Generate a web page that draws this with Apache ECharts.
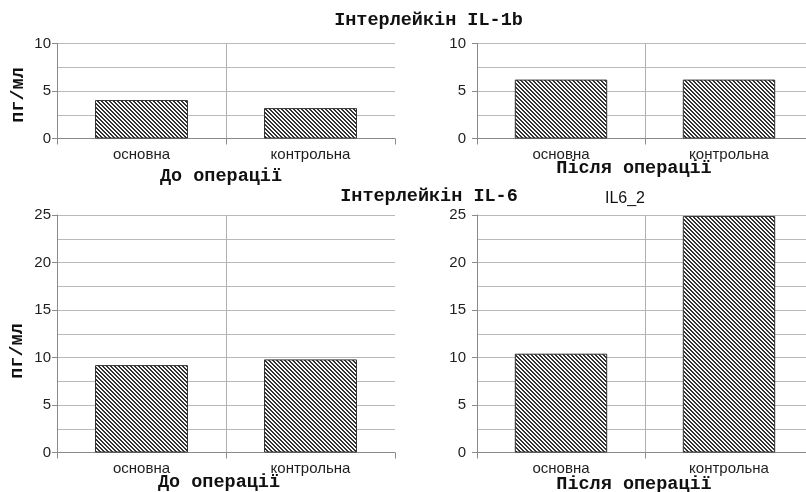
<!DOCTYPE html>
<html>
<head>
<meta charset="utf-8">
<script src="https://cdn.jsdelivr.net/npm/echarts@6/dist/echarts.min.js"></script>
<style>
html,body{margin:0;padding:0;background:#fff;overflow:hidden;width:806px;height:492px;}
#chart{width:820px;height:492px;}
</style>
</head>
<body>
<div id="chart"></div>
<script>
// ---- data ----
const categories = ['основна', 'контрольна'];
const il1bBefore = [4.05, 3.2];
const il1bAfter = [6.2, 6.2];
const il6Before = [9.2, 9.8];
const il6After = [10.4, 24.9];
const il1bAxisMax = 10;
const il6AxisMax = 25;
const yInterval = 5;
const mainTitles = ['Інтерлейкін IL-1b', 'Інтерлейкін IL-6'];
const panelNames = ['До операції', 'Після операції'];
const subTitle = 'IL6_2';
const yName = 'пг/мл';

// ---- hatch pattern ----
function makeHatch() {
  const c = document.createElement('canvas');
  c.width = 4; c.height = 4;
  const ctx = c.getContext('2d');
  const img = ctx.createImageData(4, 4);
  for (let y = 0; y < 4; y++) {
    for (let x = 0; x < 4; x++) {
      const dark = (((x - y) % 4) + 4) % 4 < 2;
      const v = dark ? 50 : 250;
      const i = (y * 4 + x) * 4;
      img.data[i] = v; img.data[i + 1] = v; img.data[i + 2] = v; img.data[i + 3] = 255;
    }
  }
  ctx.putImageData(img, 0, 0);
  return c;
}
const hatch = makeHatch();

const chart = echarts.init(document.getElementById('chart'), null, {renderer: 'canvas', width: 820, height: 492});

const grids = [
  {left: 57, top: 43.5, width: 338, height: 95},
  {left: 477, top: 43.5, width: 336, height: 95},
  {left: 57, top: 215, width: 338, height: 237.5},
  {left: 477, top: 215, width: 336, height: 237.5}
];
const maxes = [il1bAxisMax, il1bAxisMax, il6AxisMax, il6AxisMax];
const datas = [il1bBefore, il1bAfter, il6Before, il6After];
const labelMargins = [6, 11, 6, 11];

const gridColor = '#b9b9b9';
const axisColor = '#8a8a8a';
const sans = 'Liberation Sans, Arial, sans-serif';
const mono = 'Liberation Mono, Courier New, monospace';

const xAxes = grids.map((g, i) => ({
  type: 'category', gridIndex: i, data: categories,
  axisLine: {show: true, lineStyle: {color: axisColor, width: 1}},
  axisTick: {show: true, length: 6, lineStyle: {color: axisColor}},
  splitLine: {show: true, showMinLine: false, showMaxLine: false, lineStyle: {color: '#b0b0b0', width: 1}},
  axisLabel: {fontSize: 15, color: '#1e1e1e', fontFamily: sans, margin: 9}
}));
const yAxes = grids.map((g, i) => ({
  type: 'value', gridIndex: i, min: 0, max: maxes[i], interval: yInterval,
  axisLine: {show: true, lineStyle: {color: axisColor, width: 1}},
  axisTick: {show: true, length: 5, lineStyle: {color: axisColor}},
  splitLine: {show: true, lineStyle: {color: gridColor, width: 1}},
  minorTick: {show: false, splitNumber: 2},
  minorSplitLine: {show: true, lineStyle: {color: gridColor, width: 1}},
  axisLabel: {fontSize: 15, color: '#1e1e1e', fontFamily: sans, margin: labelMargins[i]}
}));
const series = datas.map((d, i) => ({
  type: 'bar', xAxisIndex: i, yAxisIndex: i, data: d,
  barWidth: '55%', silent: true,
  itemStyle: {color: {image: hatch, repeat: 'repeat'}, borderColor: '#333', borderWidth: 1}
}));

function txt(text, x, y, font, extra) {
  return Object.assign({
    type: 'text', x: x, y: y, silent: true,
    style: {text: text, font: font, fill: '#111', align: 'center', verticalAlign: 'middle'}
  }, extra || {});
}
const boldFont = 'bold 18.5px ' + mono;

chart.setOption({
  animation: false,
  backgroundColor: '#fff',
  grid: grids,
  xAxis: xAxes,
  yAxis: yAxes,
  series: series,
  graphic: [
    txt(mainTitles[0], 428.5, 20, boldFont),
    txt(mainTitles[1], 429, 196, boldFont),
    txt(subTitle, 625, 199, '16px ' + sans, {}),
    txt(panelNames[0], 221, 176.5, boldFont),
    txt(panelNames[1], 634, 168, boldFont),
    txt(panelNames[0], 219, 482, boldFont),
    txt(panelNames[1], 634, 484, boldFont),
    txt(yName, 18, 95, boldFont, {rotation: Math.PI / 2}),
    txt(yName, 17, 351, boldFont, {rotation: Math.PI / 2})
  ]
});
</script>
</body>
</html>
